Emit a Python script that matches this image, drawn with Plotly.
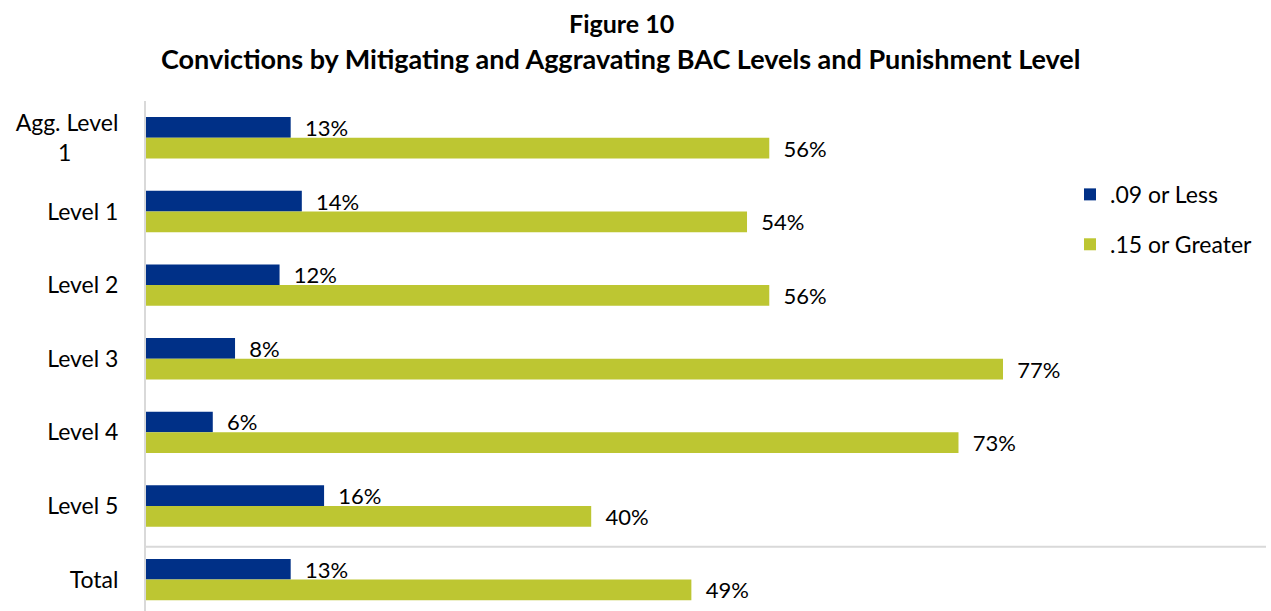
import plotly.graph_objects as go

categories = ["Agg. Level 1", "Level 1", "Level 2", "Level 3", "Level 4", "Level 5", "Total"]
tick_labels = ["Agg. Level<br>1" + "\u00a0" * 8, "Level 1", "Level 2", "Level 3", "Level 4", "Level 5", "Total"]
less_09 = [0.13, 0.14, 0.12, 0.08, 0.06, 0.16, 0.13]
greater_15 = [0.56, 0.54, 0.56, 0.77, 0.73, 0.40, 0.49]
series_names = [".09 or Less", ".15 or Greater"]

BLUE = "#003087"
GREEN = "#BDC632"
FONT = "Lato"
FS = 23

W, H = 1271, 611
PL, PT = 146, 100.5   # plot area left/top in px
PR, PB = 1266, 611    # plot area right/bottom in px


def px_x(x):
    return (x - PL) / (PR - PL)


def px_y(y):
    return (PB - y) / (PB - PT)


fig = go.Figure()
for name, vals, col, grp in [(series_names[0], less_09, BLUE, "a"), (series_names[1], greater_15, GREEN, "b")]:
    fig.add_trace(go.Bar(
        y=categories, x=vals, orientation="h", name=name,
        marker=dict(color=col, line=dict(width=0)),
        text=[f"{v:.0%}" for v in vals],
        texttemplate="\u00a0\u00a0%{text}",
        textposition="outside", cliponaxis=False, constraintext="none",
        textfont=dict(family=FONT, size=22, color="#000000"),
        legendgroup=grp,
    ))

fig.add_shape(type="line", xref="paper", yref="y", x0=0, x1=1, y0=5.554, y1=5.554,
              line=dict(color="#D9D9D9", width=2))

fig.add_annotation(text="<b>Figure 10</b>", xref="paper", yref="paper",
                   x=px_x(621), y=px_y(22), showarrow=False,
                   font=dict(family=FONT, size=25, color="#000000"), xanchor="center", yanchor="middle")
fig.add_annotation(text="<b>Convictions by Mitigating and Aggravating BAC Levels and Punishment Level</b>",
                   xref="paper", yref="paper",
                   x=px_x(620), y=px_y(57.5), showarrow=False,
                   font=dict(family=FONT, size=27, color="#000000"), xanchor="center", yanchor="middle")

px_per_unit = 1113.0
cat_px = 73.7
y_bottom = -0.5 + (PB - PT) / cat_px

fig.update_layout(
    width=W, height=H,
    margin=dict(l=PL, r=W - PR, t=PT, b=H - PB, pad=0, autoexpand=False),
    paper_bgcolor="white", plot_bgcolor="white",
    barmode="group", bargap=0.438, bargroupgap=0,
    font=dict(family=FONT, size=FS, color="#000000"),
    showlegend=True,
    legend=dict(x=px_x(1070), y=px_y(172.5), xanchor="left", yanchor="top",
                font=dict(family=FONT, size=FS, color="#000000"),
                tracegroupgap=17, bgcolor="rgba(0,0,0,0)", itemwidth=30),
    xaxis=dict(range=[0, (PR - PL) / px_per_unit], showgrid=False, zeroline=False, showticklabels=False,
               showline=False, ticks="", automargin=False),
    yaxis=dict(type="category", categoryorder="array", categoryarray=categories,
               tickmode="array", tickvals=categories, ticktext=tick_labels,
               range=[y_bottom, -0.5], showgrid=False, zeroline=False,
               showline=True, linecolor="#D9D9D9", linewidth=2, ticks="",
               ticklabelstandoff=21, automargin=False,
               tickfont=dict(family=FONT, size=FS, color="#000000")),
)

fig.write_html("out.html",
               config={"displayModeBar": False},
               post_script="document.body.style.margin='0px';document.body.style.overflow='hidden';")
